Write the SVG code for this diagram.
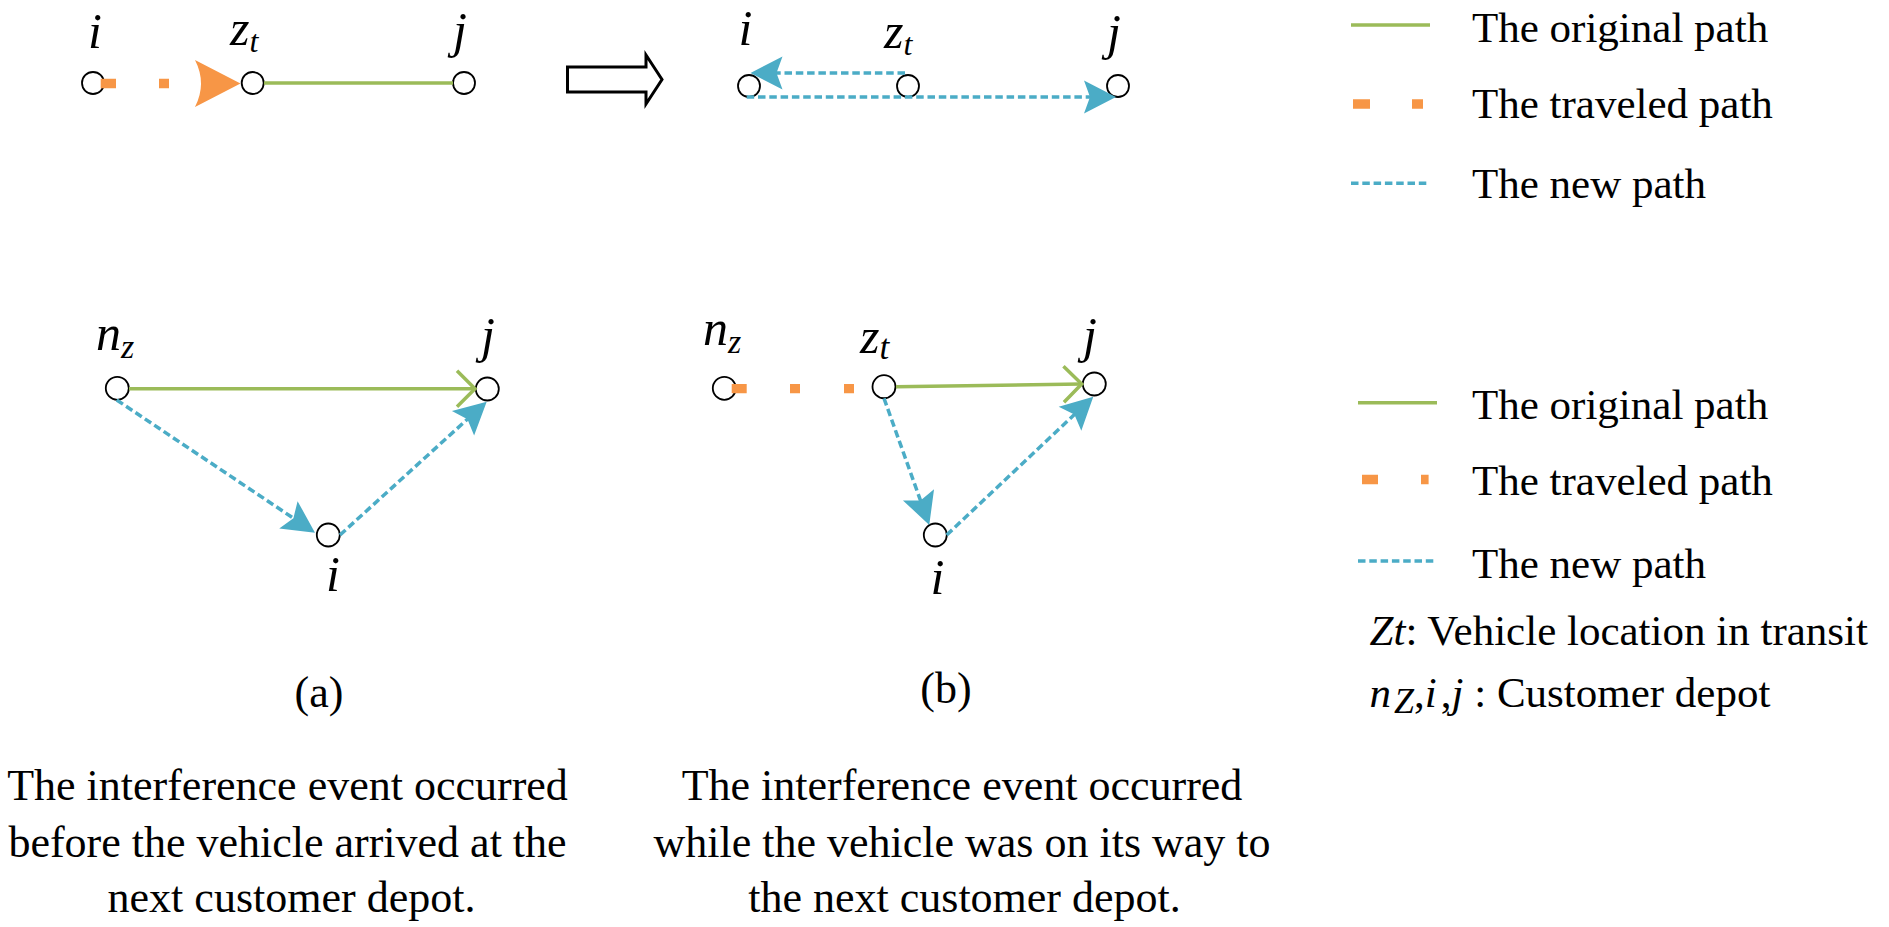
<svg xmlns="http://www.w3.org/2000/svg" width="1889" height="927" viewBox="0 0 1889 927">
<style>
text{font-family:"Liberation Serif","Times New Roman",serif;fill:#000}
.lbl{font-style:italic;font-size:50px}
.leg{font-size:43px}
.cap{font-size:44px;text-anchor:middle}
.node{fill:#fff;stroke:#000;stroke-width:1.8}
.green{stroke:#9BBB59;stroke-width:3.5;fill:none}
.blue{stroke:#4BACC6;stroke-width:3.5;fill:none;stroke-dasharray:7.5 3.8}
.orange{stroke:#F79646;stroke-width:9.3;fill:none}
</style>
<defs>
<marker id="blueHead" markerUnits="userSpaceOnUse" viewBox="-34 -18 36 36" refX="-10" refY="0" markerWidth="36" markerHeight="36" orient="auto" overflow="visible">
<path d="M0,0 L-32,-16.5 L-26,0 L-32,16.5 Z" fill="#4BACC6"/>
</marker>
<marker id="greenV" markerUnits="userSpaceOnUse" viewBox="-20 -20 24 40" refX="0" refY="0" markerWidth="24" markerHeight="40" orient="auto" overflow="visible">
<path d="M-18,-18 L0,0 L-18,18" fill="none" stroke="#9BBB59" stroke-width="3.5"/>
</marker>
</defs>
<rect width="1889" height="927" fill="#fff"/>

<!-- Top-left diagram nodes -->
<g id="tl-i"><circle class="node" cx="93" cy="83" r="11"/><text class="lbl" x="95" y="48" text-anchor="middle">i</text></g>
<g id="tl-zt"><circle class="node" cx="252.7" cy="83" r="11"/><text class="lbl" x="230" y="45" font-size="43">z<tspan font-size="32" dy="7">t</tspan></text></g>
<g id="tl-j"><circle class="node" cx="464" cy="83" r="11"/><text class="lbl" x="460" y="47" text-anchor="middle">j</text></g>

<!-- Transition arrow -->
<g id="transition-arrow"><path d="M567.5,67 H646 V55 L662,79.5 L646,104 V92 H567.5 Z" fill="#fff" stroke="#000" stroke-width="3"/></g>

<!-- Top-right diagram nodes -->
<g id="tr-i"><circle class="node" cx="749" cy="86" r="11"/><text class="lbl" x="745.5" y="45" text-anchor="middle">i</text></g>
<g id="tr-zt"><circle class="node" cx="908" cy="86" r="11"/><text class="lbl" x="884" y="48" font-size="43">z<tspan font-size="32" dy="7">t</tspan></text></g>
<g id="tr-j"><circle class="node" cx="1118" cy="86" r="11"/><text class="lbl" x="1114" y="49" text-anchor="middle">j</text></g>

<!-- Bottom-left diagram nodes -->
<g id="bl-nz"><circle class="node" cx="117.3" cy="388.3" r="11.5"/><text class="lbl" x="96" y="350" font-size="52">n<tspan font-size="34" dy="8">z</tspan></text></g>
<g id="bl-j"><circle class="node" cx="487.3" cy="389" r="11.5"/><text class="lbl" x="488" y="352" text-anchor="middle">j</text></g>
<g id="bl-i"><circle class="node" cx="328.3" cy="535" r="11.5"/><text class="lbl" x="333" y="591" text-anchor="middle">i</text></g>

<!-- Bottom-right diagram nodes -->
<g id="br-nz"><circle class="node" cx="724.3" cy="388.3" r="11.5"/><text class="lbl" x="703" y="345" font-size="52">n<tspan font-size="34" dy="8">z</tspan></text></g>
<g id="br-zt"><circle class="node" cx="884" cy="386.7" r="11.5"/><text class="lbl" x="860" y="352.7" font-size="45">z<tspan font-size="35" dy="6.5">t</tspan></text></g>
<g id="br-j"><circle class="node" cx="1094.3" cy="384" r="11.5"/><text class="lbl" x="1090" y="352" text-anchor="middle">j</text></g>
<g id="br-i"><circle class="node" cx="935.3" cy="535" r="11.5"/><text class="lbl" x="937.5" y="594" text-anchor="middle">i</text></g>

<!-- Connectors -->
<g id="connectors">
<line class="orange" x1="100.7" y1="83.5" x2="195" y2="83.5" stroke-dasharray="15.3 43 10 100"/>
<path d="M195,60 L240.5,83.5 L195,107 Q207,83.5 195,60 Z" fill="#F79646"/>
<line class="green" x1="264" y1="83" x2="453" y2="83"/>

<line class="blue" x1="905" y1="73" x2="760.5" y2="73" marker-end="url(#blueHead)"/>
<line class="blue" x1="746.7" y1="97" x2="1106" y2="97" marker-end="url(#blueHead)"/>

<line class="green" x1="129" y1="388.7" x2="475" y2="388.7" marker-end="url(#greenV)"/>
<line class="blue" x1="116.7" y1="400" x2="306.7" y2="527.1" marker-end="url(#blueHead)"/>
<line class="blue" x1="340" y1="535" x2="479.3" y2="408.4" marker-end="url(#blueHead)"/>

<line class="orange" x1="731.7" y1="388.7" x2="854" y2="388.7" stroke-dasharray="15 43.3 10 44 10 100"/>
<line class="green" x1="896" y1="386.7" x2="1081.7" y2="384" marker-end="url(#greenV)"/>
<line class="blue" x1="884" y1="398.3" x2="925.9" y2="515.6" marker-end="url(#blueHead)"/>
<line class="blue" x1="946.7" y1="535" x2="1086" y2="403.6" marker-end="url(#blueHead)"/>
</g>

<!-- Legend top -->
<g id="legend-top">
<line class="green" x1="1351" y1="25" x2="1430" y2="25"/>
<text class="leg" x="1472" y="42">The original path</text>
<line class="orange" x1="1353" y1="104" x2="1423" y2="104" stroke-dasharray="17 42 11 100" stroke-width="8.5"/>
<text class="leg" x="1472" y="118">The traveled path</text>
<line class="blue" x1="1351" y1="183.3" x2="1430" y2="183.3"/>
<text class="leg" x="1472" y="198">The new path</text>
</g>

<!-- Legend bottom -->
<g id="legend-bottom">
<line class="green" x1="1358" y1="402.7" x2="1437" y2="402.7"/>
<text class="leg" x="1472" y="419">The original path</text>
<line class="orange" x1="1362" y1="479.5" x2="1428.6" y2="479.5" stroke-dasharray="16 43 7.6 100"/>
<text class="leg" x="1472" y="495">The traveled path</text>
<line class="blue" x1="1358" y1="561" x2="1437" y2="561"/>
<text class="leg" x="1472" y="578">The new path</text>
<text class="leg" x="1369.5" y="645"><tspan font-style="italic">Zt</tspan>: Vehicle location in transit</text>
<text class="leg" x="1369.5" y="707"><tspan font-style="italic">n</tspan><tspan font-style="italic" font-size="36" dx="3" dy="6">Z</tspan><tspan dy="-6">,</tspan><tspan font-style="italic">i</tspan><tspan dx="4">,</tspan><tspan font-style="italic">j</tspan> : Customer depot</text>
</g>

<!-- Captions -->
<g id="caption-a">
<text class="cap" x="319" y="707" font-size="42">(a)</text>
<text class="cap" x="287.5" y="800">The interference event occurred</text>
<text class="cap" x="287.5" y="857">before the vehicle arrived at the</text>
<text class="cap" x="291.5" y="912">next customer depot.</text>
</g>
<g id="caption-b">
<text class="cap" x="946" y="703" font-size="42">(b)</text>
<text class="cap" x="962" y="800">The interference event occurred</text>
<text class="cap" x="962" y="857">while the vehicle was on its way to</text>
<text class="cap" x="964.5" y="912">the next customer depot.</text>
</g>
</svg>
